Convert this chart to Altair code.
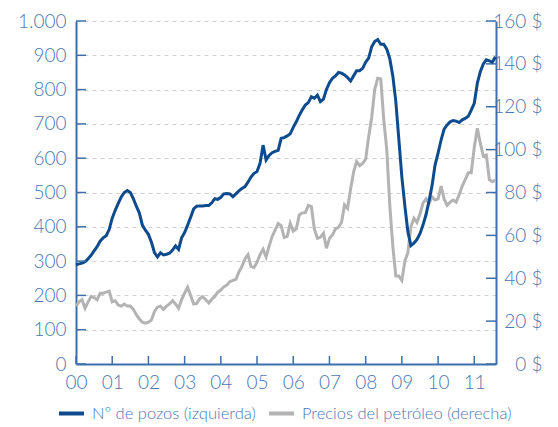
import altair as alt
import pandas as pd

# ---- data (monthly, Jan 2000 .. Aug 2011) ----
months = list(range(140))
pozos = [289, 292, 294, 298, 307, 317, 330, 342, 358, 368, 374, 392,
         425, 448, 468, 487, 500, 506, 500, 482, 460, 440, 405, 390,
         378, 355, 325, 312, 324, 318, 320, 323, 332, 344, 334, 368,
         383, 405, 428, 452, 460, 461, 461, 462, 462, 470, 482, 480,
         486, 496, 497, 496, 488, 496, 505, 512, 517, 530, 545, 556,
         561, 585, 638, 595, 608, 616, 620, 623, 658, 660, 665, 671,
         690, 706, 725, 741, 755, 762, 779, 775, 784, 765, 772, 800,
         820, 833, 840, 850, 848, 843, 835, 825, 840, 855, 855, 862,
         880, 892, 925, 940, 946, 932, 932, 918, 890, 840, 765, 655,
         545, 460, 385, 345, 352, 363, 380, 405, 435, 475, 520, 580,
         615, 653, 685, 697, 706, 710, 708, 704, 712, 716, 722, 740,
         760, 818, 852, 875, 887, 884, 880, 896]
petroleo = [27, 29, 30, 26, 29, 31.5, 31, 30, 33, 33, 33.5, 34,
            29, 29.5, 27.5, 27, 28, 27, 27, 25.5, 23, 21, 19.5, 19,
            19.5, 20.5, 24.5, 26.5, 27, 25.5, 27, 28, 29.5, 28, 26, 30,
            33, 35.8, 32, 28, 28.3, 30.5, 31.4, 30, 28.5, 30.2, 31.5, 33.5,
            34.5, 36, 36.8, 38.5, 39, 39.5, 43, 45.5, 49, 51, 45.5, 45,
            47.5, 51, 53.5, 50, 55, 59.5, 62.5, 65.5, 64.5, 59, 59.5, 65.6,
            62, 63, 69.5, 70.5, 70.6, 74, 73.4, 63, 58.6, 59.1, 61, 54,
            58.6, 60.2, 63, 63.8, 66, 74.2, 72.6, 81.5, 89.5, 94.4, 92.5, 93.6,
            95.5, 106, 115, 128, 133.3, 133, 114, 100, 74, 55, 41, 41,
            39, 48, 52, 64, 68, 66, 70, 75, 77, 75, 78, 76.5,
            77, 83, 77, 74, 75.5, 76.5, 75.5, 79, 83, 86, 89.2, 89.2,
            101, 110, 103, 97, 97.5, 86, 85, 85.8]
left_ticks = [0, 100, 200, 300, 400, 500, 600, 700, 800, 900, 1000]
right_ticks = [0, 20, 40, 60, 80, 100, 120, 140, 160]
year_ticks = [0, 1, 2, 3, 4, 5, 6, 7, 8, 9, 10, 11]
serie_pozos = "Nº de pozos (izquierda)"
serie_petroleo = "Precios del petróleo (derecha)"

BLUE = "#0e4b8e"
GRAY = "#b3b3b3"
AXIS = "#3d6fab"
LABEL = "#4a78b3"
FONT = "Lato"

W, H = 420, 343

t = [m / 12 for m in months]
df_pozos = pd.DataFrame({"t": t, "valor": pozos, "serie": serie_pozos})
df_pet = pd.DataFrame({"t": t, "valor": petroleo, "serie": serie_petroleo})

xscale = alt.Scale(domain=[0, 11.6], nice=False, zero=False)
lscale = alt.Scale(domain=[0, 1000], nice=False)
rscale = alt.Scale(domain=[0, 160], nice=False)

color = alt.Color(
    "serie:N",
    scale=alt.Scale(domain=[serie_pozos, serie_petroleo], range=[BLUE, GRAY]),
    legend=alt.Legend(
        title=None, orient="none", direction="horizontal",
        legendX=-19, legendY=378,
        symbolType="stroke", symbolStrokeWidth=4, symbolSize=625,
        labelFontSize=16.5, labelColor=LABEL, labelFont=FONT, labelFontWeight=300,
        labelOffset=6, columnPadding=5, labelLimit=400,
    ),
)

xaxis = alt.Axis(
    values=year_ticks, title=None, grid=False, ticks=False, labelFlush=False,
    labelExpr="datum.value < 10 ? '0' + datum.value : '' + datum.value",
    labelPadding=9, domainColor=AXIS, domainWidth=2,
)
laxis = alt.Axis(
    values=left_ticks, title=None, grid=True, gridDash=[4, 4],
    gridColor="#cfcfcf", gridWidth=1, ticks=False, labelPadding=10,
    labelExpr="replace(format(datum.value, ','), ',', '.')",
    domainColor=AXIS, domainWidth=2,
)
raxis = alt.Axis(
    values=right_ticks, title=None, grid=False, ticks=False, orient="right",
    labelExpr="datum.value + ' $'", labelAlign="right", labelPadding=46,
    domainColor=AXIS, domainWidth=2,
)

blue = alt.Chart(df_pozos).mark_line(strokeWidth=3).encode(
    x=alt.X("t:Q", scale=xscale, axis=xaxis),
    y=alt.Y("valor:Q", scale=lscale, axis=laxis),
    color=color,
)
lticks = alt.Chart(pd.DataFrame({"valor": left_ticks})).mark_rule(
    color=AXIS, strokeWidth=1.5).encode(
    y=alt.Y("valor:Q", scale=lscale, axis=laxis),
    x=alt.value(0), x2=alt.value(10),
)
xticks = alt.Chart(pd.DataFrame({"t": year_ticks})).mark_rule(
    color=AXIS, strokeWidth=1.5).encode(
    x=alt.X("t:Q", scale=xscale, axis=xaxis),
    y=alt.value(H - 8), y2=alt.value(H),
)

gray = alt.Chart(df_pet).mark_line(strokeWidth=3).encode(
    x=alt.X("t:Q", scale=xscale, axis=xaxis),
    y=alt.Y("valor:Q", scale=rscale, axis=raxis),
    color=color,
)
rticks = alt.Chart(pd.DataFrame({"valor": right_ticks})).mark_rule(
    color=AXIS, strokeWidth=1.5).encode(
    y=alt.Y("valor:Q", scale=rscale, axis=raxis),
    x=alt.value(W - 10), x2=alt.value(W),
)

left_layer = alt.layer(blue, lticks, xticks)
right_layer = alt.layer(gray, rticks)

chart = alt.layer(right_layer, left_layer).resolve_scale(
    y="independent"
).properties(
    width=W, height=H,
    autosize=alt.AutoSizeParams(type="none"),
    padding={"left": 68, "top": 13, "right": 50, "bottom": 62},
).configure_axis(
    labelFont=FONT, labelFontSize=19, labelColor=LABEL, labelFontWeight=300,
).configure_view(stroke=None)

chart.save("out.html", embed_options={"renderer": "svg", "actions": False})
